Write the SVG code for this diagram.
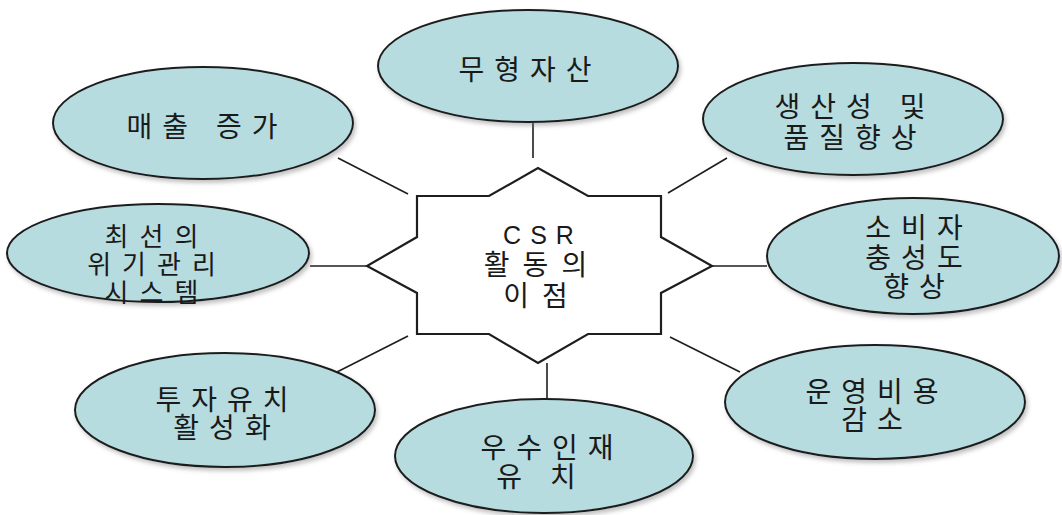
<svg xmlns="http://www.w3.org/2000/svg" width="1062" height="515" viewBox="0 0 1062 515">
  <style>
    .bub { fill: #b6dce0; stroke: #1e1e1e; stroke-width: 2; filter: url(#sh); }
    .lbl { font-family: "Liberation Sans", "Noto Sans CJK KR", sans-serif; font-size: 28px; letter-spacing: 10px; fill: #1a1a1a; text-anchor: middle; }
    .sm { font-size: 26px; letter-spacing: 11px; }
    .ctr { font-family: "Liberation Sans", "Noto Sans CJK KR", sans-serif; font-size: 28px; letter-spacing: 13px; fill: #1a1a1a; text-anchor: middle; }
    .csr { font-family: "Liberation Sans", sans-serif; font-size: 25px; letter-spacing: 9px; fill: #1a1a1a; text-anchor: middle; }
    .con line { stroke: #1e1e1e; stroke-width: 1.6; }
    .star { fill: #ffffff; stroke: #1e1e1e; stroke-width: 2.2; stroke-linejoin: miter; }
  </style>
  <defs>
    <filter id="sh" x="-10%" y="-10%" width="125%" height="135%">
      <feDropShadow dx="2" dy="3" stdDeviation="2" flood-color="#777" flood-opacity="0.45"/>
    </filter>
  </defs>
  <rect width="1062" height="515" fill="#ffffff"/>

  <g id="connectors" class="con">
    <line x1="533" y1="123" x2="533" y2="158"/>
    <line x1="338" y1="158" x2="408" y2="194"/>
    <line x1="310" y1="266" x2="367" y2="266"/>
    <line x1="337" y1="372" x2="408" y2="336"/>
    <line x1="547" y1="363" x2="547" y2="399"/>
    <line x1="670" y1="337" x2="740" y2="372"/>
    <line x1="712" y1="266" x2="767" y2="266"/>
    <line x1="668" y1="193" x2="727" y2="158"/>
  </g>

  <g id="center">
    <path class="star" d="M417,196 L489,196 L538,168 L588,196 L661,196 L661,237 L712,266 L661,293 L661,334 L588,334 L538,363 L489,334 L417,334 L417,293 L367,266 L417,237 Z"/>
    <text class="csr" x="543" y="244">CSR</text>
    <text class="ctr" x="542" y="275">활동의</text>
    <text class="ctr" x="542" y="306">이점</text>
  </g>

  <g id="n-intangible">
    <ellipse class="bub" cx="528" cy="66" rx="150" ry="56"/>
    <text class="lbl" x="530" y="80">무형자산</text>
  </g>

  <g id="n-sales">
    <ellipse class="bub" cx="203" cy="123" rx="150" ry="56"/>
    <text class="lbl" x="207" y="137">매출 증가</text>
  </g>

  <g id="n-productivity">
    <ellipse class="bub" cx="853" cy="119" rx="150" ry="56"/>
    <text class="lbl" x="855" y="117">생산성 및</text>
    <text class="lbl" x="855" y="148">품질향상</text>
  </g>

  <g id="n-crisis">
    <ellipse class="bub" cx="158" cy="253" rx="151" ry="49"/>
    <text class="lbl sm" x="157" y="246">최선의</text>
    <text class="lbl sm" x="157" y="274">위기관리</text>
    <text class="lbl sm" x="157" y="302">시스템</text>
  </g>

  <g id="n-loyalty">
    <ellipse class="bub" cx="913" cy="256" rx="146" ry="58"/>
    <text class="lbl" x="919" y="238">소비자</text>
    <text class="lbl" x="919" y="268">충성도</text>
    <text class="lbl" x="919" y="297">향상</text>
  </g>

  <g id="n-investment">
    <ellipse class="bub" cx="225" cy="410" rx="150" ry="57"/>
    <text class="lbl" x="227" y="410">투자유치</text>
    <text class="lbl" x="227" y="438">활성화</text>
  </g>

  <g id="n-talent">
    <ellipse class="bub" cx="544" cy="456" rx="149" ry="57"/>
    <text class="lbl" x="552" y="458">우수인재</text>
    <text class="lbl" x="541" y="487">유 치</text>
  </g>

  <g id="n-cost">
    <ellipse class="bub" cx="875" cy="402" rx="150" ry="57"/>
    <text class="lbl" x="877" y="402">운영비용</text>
    <text class="lbl" x="877" y="430">감소</text>
  </g>
</svg>
